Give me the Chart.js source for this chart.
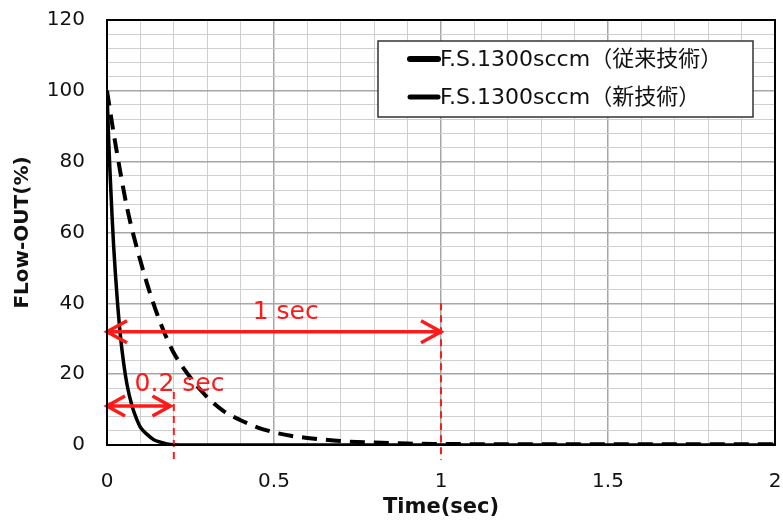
<!DOCTYPE html>
<html>
<head>
  <meta charset="UTF-8" />
  <title>Flow-out response</title>
  <style>
    body { margin: 0; background: #fff; }
    #wrap { width: 783px; height: 522px; }
  </style>
</head>
<body>
  <div id="wrap"><canvas id="flowChart"></canvas></div>
  <script src="https://cdn.jsdelivr.net/npm/chart.js"></script>
  <script>
    // series
    const oldLabel = 'F.S.1300sccm（従来技術）';
    const oldTime = [0, 0.02, 0.04, 0.06, 0.08, 0.1, 0.125, 0.15, 0.175, 0.2, 0.25, 0.3, 0.35, 0.4, 0.45, 0.5, 0.55, 0.6, 0.7, 0.8, 0.9, 1.0, 1.2, 1.4, 1.6, 1.8, 2.0];
    const oldFlow = [100, 88, 77, 67, 59, 52, 44, 37, 31, 26, 19, 13.5, 9.5, 7, 5, 3.6, 2.6, 2, 1.1, 0.7, 0.4, 0.3, 0.2, 0.2, 0.2, 0.2, 0.2];

    const newLabel = 'F.S.1300sccm（新技術）';
    const newTime = [0, 0.005, 0.01, 0.015, 0.02, 0.03, 0.04, 0.05, 0.06, 0.075, 0.09, 0.1, 0.12, 0.14, 0.16, 0.18, 0.2, 0.3, 0.5, 1.0, 1.5, 2.0];
    const newFlow = [100, 86, 75, 65, 56, 42, 31, 23, 17, 11, 7, 5, 3, 1.5, 0.8, 0.3, 0.1, 0, 0, 0, 0, 0];

    // red annotations: [fromTime, toTime, flow]
    const arrowSpans = [[0, 1.0, 32], [0, 0.19, 11]];
    // vertical markers: [time, topFlow]
    const markerLines = [[0.2, 15], [1.0, 40]];
    // texts: [text, time, flow]
    const spanTexts = [['1 sec', 0.535, 37.5], ['0.2 sec', 0.217, 17.2]];

    const red = '#ff1a1a';
    const font = 'DejaVu Sans, Noto Sans CJK JP, sans-serif';

    const annotate = {
      id: 'annotate',
      afterDatasetsDraw(chart) {
        const { ctx, chartArea: a, scales: { x, y } } = chart;
        ctx.save();
        ctx.strokeStyle = red;
        ctx.lineWidth = 2;
        ctx.setLineDash([7, 5]);
        markerLines.forEach(([t, f]) => {
          const px = x.getPixelForValue(t);
          ctx.beginPath();
          ctx.moveTo(px, y.getPixelForValue(f));
          ctx.lineTo(px, a.bottom + 15);
          ctx.stroke();
        });
        ctx.setLineDash([]);
        ctx.lineWidth = 3.5;
        arrowSpans.forEach(([t1, t2, f], i) => {
          const x1 = x.getPixelForValue(t1), x2 = x.getPixelForValue(t2), py = y.getPixelForValue(f);
          const L = i === 0 ? 20 : 18, H = i === 0 ? 11 : 10;
          ctx.beginPath();
          ctx.moveTo(x1, py); ctx.lineTo(x2, py);
          ctx.moveTo(x1 + L, py - H); ctx.lineTo(x1, py); ctx.lineTo(x1 + L, py + H);
          ctx.moveTo(x2 - L, py - H); ctx.lineTo(x2, py); ctx.lineTo(x2 - L, py + H);
          ctx.stroke();
        });
        ctx.fillStyle = red;
        ctx.font = '25px ' + font;
        ctx.textAlign = 'center';
        ctx.textBaseline = 'middle';
        spanTexts.forEach(([s, t, f]) => ctx.fillText(s, x.getPixelForValue(t), y.getPixelForValue(f)));
        ctx.restore();
      },
      afterDraw(chart) {
        const { ctx, chartArea: a } = chart;
        ctx.save();
        // plot frame
        ctx.strokeStyle = '#000';
        ctx.lineWidth = 2;
        ctx.strokeRect(a.left, a.top, a.right - a.left, a.bottom - a.top);
        // legend box
        ctx.fillStyle = '#fff';
        ctx.fillRect(378, 41, 375, 76);
        ctx.strokeStyle = '#333';
        ctx.lineWidth = 1.5;
        ctx.strokeRect(378, 41, 375, 76);
        const rows = [[oldLabel, 59, 6], [newLabel, 97, 5]];
        ctx.font = '22px ' + font;
        ctx.textBaseline = 'middle';
        ctx.textAlign = 'left';
        rows.forEach(([txt, yy, w]) => {
          ctx.strokeStyle = '#000';
          ctx.lineWidth = w;
          ctx.lineCap = 'round';
          ctx.beginPath();
          ctx.moveTo(410, yy); ctx.lineTo(438, yy);
          ctx.stroke();
          ctx.fillStyle = '#111';
          ctx.fillText(txt, 440, yy + 1);
        });
        ctx.restore();
      }
    };

    const toPoints = (ts, vs) => ts.map((t, i) => ({ x: t, y: vs[i] }));
    const noPad = s => { s.paddingLeft = 0; s.paddingRight = 0; s.paddingTop = 0; s.paddingBottom = 0; };

    new Chart(document.getElementById('flowChart'), {
      type: 'line',
      data: {
        datasets: [{
          label: oldLabel,
          data: toPoints(oldTime, oldFlow),
          borderColor: '#000',
          borderWidth: 4,
          borderDash: [15, 9],
          pointRadius: 0,
          cubicInterpolationMode: 'monotone',
          fill: false
        }, {
          label: newLabel,
          data: toPoints(newTime, newFlow),
          borderColor: '#000',
          borderWidth: 3.5,
          pointRadius: 0,
          cubicInterpolationMode: 'monotone',
          fill: false
        }]
      },
      options: {
        responsive: true,
        maintainAspectRatio: false,
        animation: false,
        layout: { padding: { top: 20, right: 8, bottom: 0, left: 0 } },
        plugins: { legend: { display: false }, tooltip: { enabled: false } },
        scales: {
          x: {
            type: 'linear',
            min: 0, max: 2,
            afterFit: s => { s.height = 77; noPad(s); },
            border: { display: false },
            grid: {
              drawTicks: false,
              color: c => Math.round(c.tick.value * 10) % 5 === 0 ? '#a6a6a6' : '#cfcfcf',
              lineWidth: c => Math.round(c.tick.value * 10) % 5 === 0 ? 1.5 : 1
            },
            ticks: {
              stepSize: 0.1,
              autoSkip: false,
              maxRotation: 0,
              padding: 25,
              color: '#111',
              font: { family: font, size: 20 },
              callback: v => Math.round(v * 10) % 5 === 0 ? String(Math.round(v * 10) / 10) : ''
            },
            title: {
              display: true,
              text: 'Time(sec)',
              color: '#111',
              padding: { top: 0, bottom: 2 },
              font: { family: font, size: 21, weight: 'bold' }
            }
          },
          y: {
            min: 0, max: 120,
            afterFit: s => { s.width = 107; noPad(s); },
            border: { display: false },
            grid: {
              drawTicks: false,
              color: c => c.tick.value % 20 === 0 ? '#a6a6a6' : '#cfcfcf',
              lineWidth: c => c.tick.value % 20 === 0 ? 1.5 : 1
            },
            ticks: {
              stepSize: 4,
              autoSkip: false,
              padding: 22,
              color: '#111',
              font: { family: font, size: 20 },
              callback: v => v % 20 === 0 ? String(v) : ''
            },
            title: {
              display: true,
              text: 'FLow-OUT(%)',
              color: '#111',
              padding: { top: 11, bottom: 0 },
              font: { family: font, size: 20, weight: 'bold' }
            }
          }
        }
      },
      plugins: [annotate]
    });
  </script>
</body>
</html>
